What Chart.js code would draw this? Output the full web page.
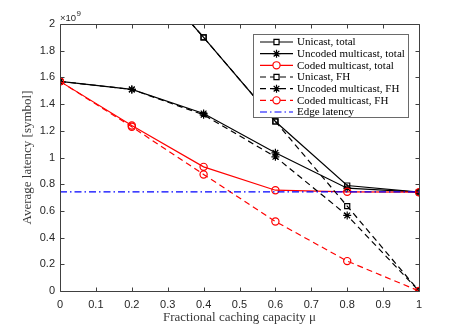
<!DOCTYPE html>
<html><head><meta charset="utf-8">
<script src="https://cdn.jsdelivr.net/npm/chart.js@4/dist/chart.umd.min.js"></script>
<style>html,body{margin:0;padding:0;background:#fff;}canvas{display:block;}</style>
</head><body>
<canvas id="c" width="463" height="328"></canvas>
<script>
// ---- data (latency in symbols) ----
const mu = [0, 0.2, 0.4, 0.6, 0.8, 1];
const unicastTotal = [3.14e9, 2.51e9, 1.90e9, 1.27e9, 0.79e9, 0.74e9];
const uncodedTotal = [1.57e9, 1.51e9, 1.33e9, 1.035e9, 0.77e9, 0.74e9];
const codedTotal   = [1.57e9, 1.24e9, 0.93e9, 0.755e9, 0.743e9, 0.74e9];
const unicastFH    = [3.14e9, 2.51e9, 1.90e9, 1.27e9, 0.636e9, 0];
const uncodedFH    = [1.57e9, 1.51e9, 1.32e9, 1.005e9, 0.566e9, 0];
const codedFH      = [1.57e9, 1.23e9, 0.873e9, 0.521e9, 0.224e9, 0];
const edgeMu = [0, 1];
const edgeLatency = [0.743e9, 0.743e9];
const seriesLabels = ['Unicast, total', 'Uncoded multicast, total', 'Coded multicast, total',
  'Unicast, FH', 'Uncoded multicast, FH', 'Coded multicast, FH', 'Edge latency'];
const xTickValues = [0, 0.1, 0.2, 0.3, 0.4, 0.5, 0.6, 0.7, 0.8, 0.9, 1];
const yTickValues = [0, 0.2e9, 0.4e9, 0.6e9, 0.8e9, 1.0e9, 1.2e9, 1.4e9, 1.6e9, 1.8e9, 2.0e9];
const xTitle = 'Fractional caching capacity μ';
const yTitle = 'Average latency [symbol]';
const exponentText = '×10';
const exponentPower = '9';

const pts = (xs, ys) => xs.map((x, i) => ({x: x, y: ys[i]}));
const DASH = [6, 4];
const DASHDOT = [7, 3, 1.5, 3];

function series(idx, xs, ys, color, style, dash, radius) {
  return {
    label: seriesLabels[idx],
    data: pts(xs, ys),
    borderColor: color,
    backgroundColor: color,
    borderWidth: 1.2,
    borderDash: dash,
    pointStyle: style || 'circle',
    pointRadius: radius,
    pointBorderColor: color,
    pointBackgroundColor: 'rgba(0,0,0,0)',
    pointBorderWidth: 1.2,
    tension: 0,
    fill: false,
    order: 20 - idx
  };
}

const datasets = [
  series(0, mu, unicastTotal, '#000000', 'rect', [], 3.6),
  series(1, mu, uncodedTotal, '#000000', 'star', [], 4),
  series(2, mu, codedTotal, '#ff0000', 'circle', [], 3.6),
  series(3, mu, unicastFH, '#000000', 'rect', DASH, 3.6),
  series(4, mu, uncodedFH, '#000000', 'star', DASH, 4),
  series(5, mu, codedFH, '#ff0000', 'circle', DASH, 3.6),
  series(6, edgeMu, edgeLatency, '#0000ff', false, DASHDOT, 0)
];

const AXIS_COLOR = '#404040';

const framePlugin = {
  id: 'frame',
  afterDatasetsDraw(chart) {
    const {ctx, chartArea: a, scales} = chart;
    const L = Math.round(a.left) + 0.5, R = Math.round(a.right) + 0.5;
    const T = Math.round(a.top) + 0.5, B = Math.round(a.bottom) + 0.5;
    ctx.save();
    ctx.strokeStyle = AXIS_COLOR;
    ctx.lineWidth = 1;
    ctx.setLineDash([]);
    ctx.beginPath();
    ctx.rect(L, T, R - L, B - T);
    const tl = 4;
    xTickValues.forEach(v => {
      const x = Math.round(scales.x.getPixelForValue(v)) + 0.5;
      ctx.moveTo(x, B); ctx.lineTo(x, B - tl);
      ctx.moveTo(x, T); ctx.lineTo(x, T + tl);
    });
    yTickValues.forEach(v => {
      const y = Math.round(scales.y.getPixelForValue(v)) + 0.5;
      ctx.moveTo(L, y); ctx.lineTo(L + tl, y);
      ctx.moveTo(R, y); ctx.lineTo(R - tl, y);
    });
    ctx.stroke();
    // exponent label
    ctx.fillStyle = '#262626';
    ctx.textBaseline = 'alphabetic';
    ctx.textAlign = 'left';
    ctx.font = '9.5px "Liberation Sans", Arial, sans-serif';
    ctx.fillText(exponentText, a.left, a.top - 3);
    const w = ctx.measureText(exponentText).width;
    ctx.font = '8px "Liberation Sans", Arial, sans-serif';
    ctx.fillText(exponentPower, a.left + w + 0.5, a.top - 8);
    ctx.restore();
  }
};

const legendPlugin = {
  id: 'matlabLegend',
  afterDraw(chart) {
    const {ctx} = chart;
    const x0 = 253.5, y0 = 34.5, w = 155, h = 83;
    ctx.save();
    ctx.fillStyle = '#ffffff';
    ctx.fillRect(x0, y0, w, h);
    ctx.strokeStyle = '#6a6a6a';
    ctx.lineWidth = 1;
    ctx.setLineDash([]);
    ctx.strokeRect(x0, y0, w, h);
    const dsList = chart.data.datasets;
    dsList.forEach((ds, i) => {
      const y = 42 + i * 11.67;
      const lx1 = 260, lx2 = 293, cx = (lx1 + lx2) / 2;
      ctx.strokeStyle = ds.borderColor;
      ctx.lineWidth = ds.borderWidth;
      ctx.setLineDash(ds.borderDash || []);
      ctx.beginPath();
      ctx.moveTo(lx1, y); ctx.lineTo(lx2, y);
      ctx.stroke();
      ctx.setLineDash([]);
      if (ds.pointRadius > 0) {
        ctx.strokeStyle = ds.pointBorderColor;
        ctx.fillStyle = '#ffffff';
        ctx.lineWidth = ds.pointBorderWidth;
        Chart.helpers.drawPoint(ctx, {pointStyle: ds.pointStyle, radius: ds.pointRadius, rotation: 0, borderWidth: ds.pointBorderWidth}, cx, y);
      }
      ctx.fillStyle = '#000000';
      ctx.font = '11px "Liberation Serif", "Times New Roman", serif';
      ctx.textBaseline = 'middle';
      ctx.textAlign = 'left';
      ctx.fillText(ds.label, 297, y + 0.5);
    });
    ctx.restore();
  }
};

const tickFont = {family: '"Liberation Sans", Arial, sans-serif', size: 11};
const titleFont = {family: '"Liberation Serif", "Times New Roman", serif', size: 13};

new Chart(document.getElementById('c'), {
  type: 'line',
  data: {datasets: datasets},
  options: {
    responsive: false,
    animation: false,
    events: [],
    layout: {padding: {top: 24, right: 44, left: 0, bottom: 0}},
    plugins: {legend: {display: false}, tooltip: {enabled: false}},
    scales: {
      x: {
        type: 'linear', min: 0, max: 1,
        grid: {display: false, drawTicks: false, tickLength: 0},
        border: {display: false},
        afterBuildTicks: s => { s.ticks = xTickValues.map(v => ({value: v})); },
        afterFit: s => { s.height = 37; },
        ticks: {font: tickFont, color: '#262626', padding: 7, maxRotation: 0, autoSkip: false,
          callback: v => String(+v.toFixed(1))},
        title: {display: true, text: xTitle, font: titleFont, color: '#3a3a3a', padding: {top: 0, bottom: 3}}
      },
      y: {
        type: 'linear', min: 0, max: 2e9,
        grid: {display: false, drawTicks: false, tickLength: 0},
        border: {display: false},
        afterBuildTicks: s => { s.ticks = yTickValues.map(v => ({value: v})); },
        afterFit: s => { s.width = 60; },
        ticks: {font: tickFont, color: '#262626', padding: 5, autoSkip: false,
          callback: v => String(+(v / 1e9).toFixed(1))},
        title: {display: true, text: yTitle, font: titleFont, color: '#3a3a3a', padding: {top: 20, bottom: 0}}
      }
    }
  },
  plugins: [framePlugin, legendPlugin]
});
</script>
</body></html>
